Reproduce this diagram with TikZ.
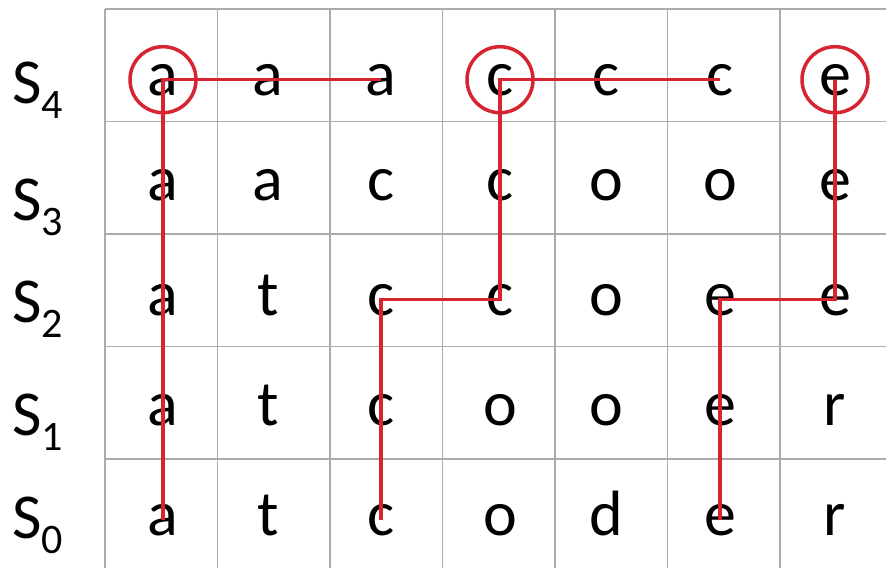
\documentclass[tikz,border=0pt]{standalone}
\usepackage{fontspec}
\setmainfont{Carlito}
\definecolor{pathred}{RGB}{214,36,48}
\tikzset{
    letter/.style={anchor=base,inner sep=0pt,font=\fontsize{64}{64}\selectfont},
    rowlabel/.style={anchor=base west,inner sep=0pt,font=\fontsize{64}{64}\selectfont},
    gridline/.style={black!33,line width=1.5pt},
    trace/.style={pathred,line width=3.5pt}
}
\begin{document}
\begin{tikzpicture}[x=1pt,y=-1pt]
            \useasboundingbox (0,0) rectangle (886,568);

            % grid
            \foreach \i in {0,...,6}
                \draw[gridline] ({105+112.5*\i},9) -- ({105+112.5*\i},568);
            \foreach \j in {0,...,4}
                \draw[gridline] (105,{9+112.5*\j}) -- (886,{9+112.5*\j});

            % letters of each row
            \foreach \r/\yb/\w in {4/95/{a,a,a,c,c,c,e},3/200/{a,a,c,c,o,o,e},
                    2/315/{a,t,c,c,o,e,e},1/425/{a,t,c,o,o,e,r},0/535/{a,t,c,o,d,e,r}}
                \foreach \ch [count=\c from 0] in \w {
                    \pgfmathsetmacro{\xc}{{163,268,381,500,606,720,835}[\c]}
                    \node[letter] (L\r-\c) at (\xc,\yb) {\ch};
                }

            % row labels
            \foreach \r/\yb in {4/103,3/220,2/322,1/435,0/538}
                \node[rowlabel] (S\r) at (12,\yb)
                    {S\raisebox{-15pt}{\fontsize{42}{42}\selectfont\r}};

            % paths
            \draw[trace] (L4-0.center) circle[radius=33];
            \draw[trace] (L4-2.center) -- (L4-0.center) -- (L0-0.center);

            \draw[trace] (L4-3.center) circle[radius=33];
            \draw[trace] (L4-5.center) -- (L4-3.center) -- (L2-3.center)
                -- (L2-2.center) -- (L0-2.center);

            \draw[trace] (L4-6.center) circle[radius=33];
            \draw[trace] (L4-6.center) -- (L2-6.center) -- (L2-5.center)
                -- (L0-5.center);
\end{tikzpicture}
\end{document}
